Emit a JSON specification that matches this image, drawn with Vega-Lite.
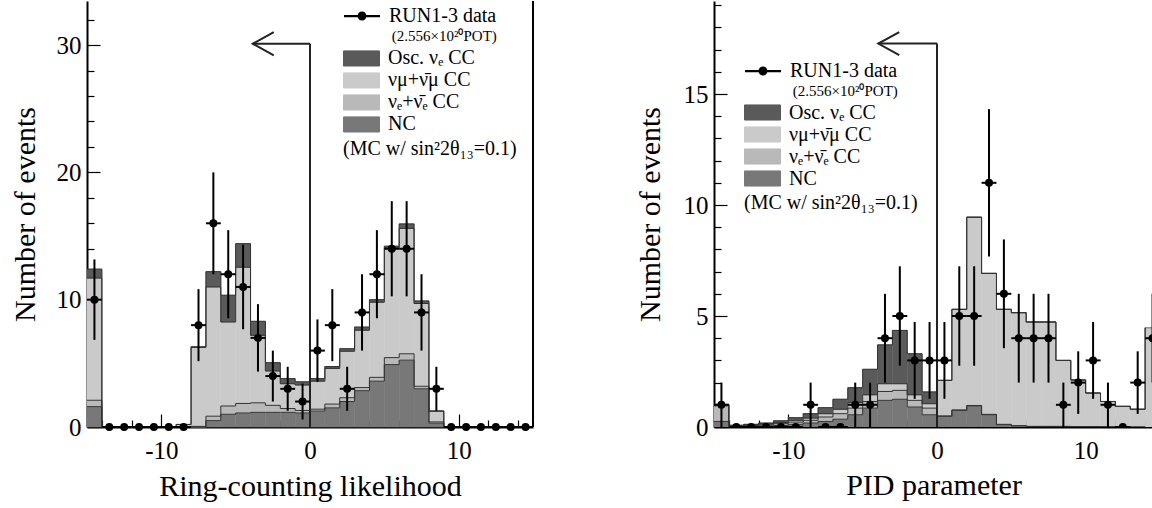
{
  "$schema": "https://vega.github.io/schema/vega-lite/v6.json",
  "padding": {"left": 10, "top": 0, "right": 0, "bottom": 8},
  "background": "white",
  "bounds": "flush",
  "spacing": 181,
  "config": {
    "view": {"stroke": null},
    "font": "Liberation Serif",
    "style": {"guide-label": {"font": "Liberation Serif", "fill": "black"}, "guide-title": {"font": "Liberation Serif", "fill": "black", "fontWeight": "normal"}},
    "axis": {"domainColor": "black", "domainWidth": 2, "tickColor": "black", "tickWidth": 1.2, "labelFont": "Liberation Serif", "labelFontSize": 25, "labelColor": "black", "titleFont": "Liberation Serif", "titleFontSize": 30, "titleFontWeight": "normal", "titleColor": "black", "grid": false, "labelOverlap": false, "labelFlush": false, "zindex": 1},
    "legend": {"labelFont": "Liberation Serif", "labelFontSize": 20, "labelColor": "black", "titleFont": "Liberation Serif", "titleFontWeight": "normal", "titleColor": "black", "padding": 0, "titleLimit": 500, "labelLimit": 500}
  },
  "datasets": {
    "mcL": [
      {"a": -15, "b": -14, "NC": 1.6, "nue": 0.5, "numu": 9.6, "osc": 0.7},
      {"a": -14, "b": -13, "NC": 0, "nue": 0, "numu": 0, "osc": 0},
      {"a": -13, "b": -12, "NC": 0, "nue": 0, "numu": 0, "osc": 0},
      {"a": -12, "b": -11, "NC": 0, "nue": 0, "numu": 0, "osc": 0},
      {"a": -11, "b": -10, "NC": 0, "nue": 0, "numu": 0, "osc": 0},
      {"a": -10, "b": -9, "NC": 0, "nue": 0, "numu": 0, "osc": 0},
      {"a": -9, "b": -8, "NC": 0, "nue": 0, "numu": 0.2, "osc": 0},
      {"a": -8, "b": -7, "NC": 0, "nue": 0.05, "numu": 6.2, "osc": 0.05},
      {"a": -7, "b": -6, "NC": 0.5, "nue": 0.35, "numu": 10.15, "osc": 1.2},
      {"a": -6, "b": -5, "NC": 1.0, "nue": 0.65, "numu": 6.6, "osc": 2.1},
      {"a": -5, "b": -4, "NC": 1.1, "nue": 0.75, "numu": 10.7, "osc": 1.85},
      {"a": -4, "b": -3, "NC": 1.15, "nue": 0.75, "numu": 5.3, "osc": 1.1},
      {"a": -3, "b": -2, "NC": 1.15, "nue": 0.55, "numu": 2.7, "osc": 0.65},
      {"a": -2, "b": -1, "NC": 1.15, "nue": 0.3, "numu": 1.95, "osc": 0.4},
      {"a": -1, "b": 0, "NC": 1.1, "nue": 0.2, "numu": 2.0, "osc": 0.25},
      {"a": 0, "b": 1, "NC": 1.25, "nue": 0.15, "numu": 2.2, "osc": 0.2},
      {"a": 1, "b": 2, "NC": 1.5, "nue": 0.3, "numu": 2.8, "osc": 0.15},
      {"a": 2, "b": 3, "NC": 2.0, "nue": 0.3, "numu": 3.65, "osc": 0.2},
      {"a": 3, "b": 4, "NC": 2.85, "nue": 0.25, "numu": 4.5, "osc": 0.25},
      {"a": 4, "b": 5, "NC": 3.6, "nue": 0.3, "numu": 5.9, "osc": 0.2},
      {"a": 5, "b": 6, "NC": 4.9, "nue": 0.55, "numu": 8.6, "osc": 0.15},
      {"a": 6, "b": 7, "NC": 5.25, "nue": 0.5, "numu": 9.85, "osc": 0.35},
      {"a": 7, "b": 8, "NC": 3.0, "nue": 0.2, "numu": 6.5, "osc": 0.2},
      {"a": 8, "b": 9, "NC": 0.3, "nue": 0.1, "numu": 0.85, "osc": 0},
      {"a": 9, "b": 10, "NC": 0, "nue": 0, "numu": 0, "osc": 0},
      {"a": 10, "b": 11, "NC": 0, "nue": 0, "numu": 0, "osc": 0},
      {"a": 11, "b": 12, "NC": 0, "nue": 0, "numu": 0, "osc": 0},
      {"a": 12, "b": 13, "NC": 0, "nue": 0, "numu": 0, "osc": 0},
      {"a": 13, "b": 14, "NC": 0, "nue": 0, "numu": 0, "osc": 0},
      {"a": 14, "b": 15, "NC": 0, "nue": 0, "numu": 0, "osc": 0}
    ],
    "mcR": [
      {"a": -15, "b": -14, "NC": 0.25, "nue": 0.7, "numu": 0.05, "osc": 0.02},
      {"a": -14, "b": -13, "NC": 0.02, "nue": 0.02, "numu": 0.02, "osc": 0.02},
      {"a": -13, "b": -12, "NC": 0.03, "nue": 0.03, "numu": 0.03, "osc": 0.03},
      {"a": -12, "b": -11, "NC": 0.05, "nue": 0.05, "numu": 0.04, "osc": 0.04},
      {"a": -11, "b": -10, "NC": 0.07, "nue": 0.08, "numu": 0.05, "osc": 0.08},
      {"a": -10, "b": -9, "NC": 0.12, "nue": 0.1, "numu": 0.08, "osc": 0.12},
      {"a": -9, "b": -8, "NC": 0.18, "nue": 0.12, "numu": 0.1, "osc": 0.2},
      {"a": -8, "b": -7, "NC": 0.25, "nue": 0.2, "numu": 0.15, "osc": 0.27},
      {"a": -7, "b": -6, "NC": 0.35, "nue": 0.25, "numu": 0.2, "osc": 0.45},
      {"a": -6, "b": -5, "NC": 0.55, "nue": 0.3, "numu": 0.25, "osc": 0.67},
      {"a": -5, "b": -4, "NC": 0.85, "nue": 0.3, "numu": 0.3, "osc": 1.15},
      {"a": -4, "b": -3, "NC": 1.2, "nue": 0.4, "numu": 0.35, "osc": 1.75},
      {"a": -3, "b": -2, "NC": 1.25, "nue": 0.4, "numu": 0.3, "osc": 2.4},
      {"a": -2, "b": -1, "NC": 0.9, "nue": 0.3, "numu": 0.25, "osc": 1.85},
      {"a": -1, "b": 0, "NC": 0.55, "nue": 0.3, "numu": 0.2, "osc": 0.53},
      {"a": 0, "b": 1, "NC": 0.48, "nue": 0.02, "numu": 1.6, "osc": 0},
      {"a": 1, "b": 2, "NC": 0.75, "nue": 0.02, "numu": 4.53, "osc": 0},
      {"a": 2, "b": 3, "NC": 0.95, "nue": 0.02, "numu": 8.48, "osc": 0},
      {"a": 3, "b": 4, "NC": 0.55, "nue": 0.02, "numu": 6.35, "osc": 0},
      {"a": 4, "b": 5, "NC": 0.1, "nue": 0.02, "numu": 5.18, "osc": 0},
      {"a": 5, "b": 6, "NC": 0.05, "nue": 0.01, "numu": 5.09, "osc": 0},
      {"a": 6, "b": 7, "NC": 0.02, "nue": 0.01, "numu": 4.7, "osc": 0},
      {"a": 7, "b": 8, "NC": 0.02, "nue": 0.01, "numu": 4.7, "osc": 0},
      {"a": 8, "b": 9, "NC": 0.02, "nue": 0.01, "numu": 2.97, "osc": 0},
      {"a": 9, "b": 10, "NC": 0.01, "nue": 0.01, "numu": 2.1, "osc": 0},
      {"a": 10, "b": 11, "NC": 0.01, "nue": 0.01, "numu": 1.51, "osc": 0},
      {"a": 11, "b": 12, "NC": 0.01, "nue": 0, "numu": 1.14, "osc": 0},
      {"a": 12, "b": 13, "NC": 0.01, "nue": 0, "numu": 0.92, "osc": 0},
      {"a": 13, "b": 14, "NC": 0, "nue": 0, "numu": 0.8, "osc": 0},
      {"a": 14, "b": 15, "NC": 0, "nue": 0, "numu": 4.47, "osc": 0}
    ],
    "ptL": [
      {"a": -15, "b": -14, "m": -14.5, "n": 10, "lo": 6.84, "hi": 13.16},
      {"a": -14, "b": -13, "m": -13.5, "n": 0, "lo": 0, "hi": 0},
      {"a": -13, "b": -12, "m": -12.5, "n": 0, "lo": 0, "hi": 0},
      {"a": -12, "b": -11, "m": -11.5, "n": 0, "lo": 0, "hi": 0},
      {"a": -11, "b": -10, "m": -10.5, "n": 0, "lo": 0, "hi": 0},
      {"a": -10, "b": -9, "m": -9.5, "n": 0, "lo": 0, "hi": 0},
      {"a": -9, "b": -8, "m": -8.5, "n": 0, "lo": 0, "hi": 0},
      {"a": -8, "b": -7, "m": -7.5, "n": 8, "lo": 5.17, "hi": 10.83},
      {"a": -7, "b": -6, "m": -6.5, "n": 16, "lo": 12, "hi": 20},
      {"a": -6, "b": -5, "m": -5.5, "n": 12, "lo": 8.54, "hi": 15.46},
      {"a": -5, "b": -4, "m": -4.5, "n": 11, "lo": 7.68, "hi": 14.32},
      {"a": -4, "b": -3, "m": -3.5, "n": 7, "lo": 4.35, "hi": 9.65},
      {"a": -3, "b": -2, "m": -2.5, "n": 4, "lo": 2, "hi": 6},
      {"a": -2, "b": -1, "m": -1.5, "n": 3, "lo": 1.27, "hi": 4.73},
      {"a": -1, "b": 0, "m": -0.5, "n": 2, "lo": 0.59, "hi": 3.41},
      {"a": 0, "b": 1, "m": 0.5, "n": 6, "lo": 3.55, "hi": 8.45},
      {"a": 1, "b": 2, "m": 1.5, "n": 8, "lo": 5.17, "hi": 10.83},
      {"a": 2, "b": 3, "m": 2.5, "n": 3, "lo": 1.27, "hi": 4.73},
      {"a": 3, "b": 4, "m": 3.5, "n": 9, "lo": 6, "hi": 12},
      {"a": 4, "b": 5, "m": 4.5, "n": 12, "lo": 8.54, "hi": 15.46},
      {"a": 5, "b": 6, "m": 5.5, "n": 14, "lo": 10.26, "hi": 17.74},
      {"a": 6, "b": 7, "m": 6.5, "n": 14, "lo": 10.26, "hi": 17.74},
      {"a": 7, "b": 8, "m": 7.5, "n": 9, "lo": 6, "hi": 12},
      {"a": 8, "b": 9, "m": 8.5, "n": 3, "lo": 1.27, "hi": 4.73},
      {"a": 9, "b": 10, "m": 9.5, "n": 0, "lo": 0, "hi": 0},
      {"a": 10, "b": 11, "m": 10.5, "n": 0, "lo": 0, "hi": 0},
      {"a": 11, "b": 12, "m": 11.5, "n": 0, "lo": 0, "hi": 0},
      {"a": 12, "b": 13, "m": 12.5, "n": 0, "lo": 0, "hi": 0},
      {"a": 13, "b": 14, "m": 13.5, "n": 0, "lo": 0, "hi": 0},
      {"a": 14, "b": 15, "m": 14.5, "n": 0, "lo": 0, "hi": 0}
    ],
    "ptR": [
      {"a": -15, "b": -14, "m": -14.5, "n": 1, "lo": 0, "hi": 2},
      {"a": -14, "b": -13, "m": -13.5, "n": 0, "lo": 0, "hi": 0},
      {"a": -13, "b": -12, "m": -12.5, "n": 0, "lo": 0, "hi": 0},
      {"a": -12, "b": -11, "m": -11.5, "n": 0, "lo": 0, "hi": 0},
      {"a": -11, "b": -10, "m": -10.5, "n": 0, "lo": 0, "hi": 0},
      {"a": -10, "b": -9, "m": -9.5, "n": 0, "lo": 0, "hi": 0},
      {"a": -9, "b": -8, "m": -8.5, "n": 1, "lo": 0, "hi": 2},
      {"a": -8, "b": -7, "m": -7.5, "n": 0, "lo": 0, "hi": 0},
      {"a": -7, "b": -6, "m": -6.5, "n": 0, "lo": 0, "hi": 0},
      {"a": -6, "b": -5, "m": -5.5, "n": 1, "lo": 0, "hi": 2},
      {"a": -5, "b": -4, "m": -4.5, "n": 1, "lo": 0, "hi": 2},
      {"a": -4, "b": -3, "m": -3.5, "n": 4, "lo": 2, "hi": 6},
      {"a": -3, "b": -2, "m": -2.5, "n": 5, "lo": 2.76, "hi": 7.24},
      {"a": -2, "b": -1, "m": -1.5, "n": 3, "lo": 1.27, "hi": 4.73},
      {"a": -1, "b": 0, "m": -0.5, "n": 3, "lo": 1.27, "hi": 4.73},
      {"a": 0, "b": 1, "m": 0.5, "n": 3, "lo": 1.27, "hi": 4.73},
      {"a": 1, "b": 2, "m": 1.5, "n": 5, "lo": 2.76, "hi": 7.24},
      {"a": 2, "b": 3, "m": 2.5, "n": 5, "lo": 2.76, "hi": 7.24},
      {"a": 3, "b": 4, "m": 3.5, "n": 11, "lo": 7.68, "hi": 14.32},
      {"a": 4, "b": 5, "m": 4.5, "n": 6, "lo": 3.55, "hi": 8.45},
      {"a": 5, "b": 6, "m": 5.5, "n": 4, "lo": 2, "hi": 6},
      {"a": 6, "b": 7, "m": 6.5, "n": 4, "lo": 2, "hi": 6},
      {"a": 7, "b": 8, "m": 7.5, "n": 4, "lo": 2, "hi": 6},
      {"a": 8, "b": 9, "m": 8.5, "n": 1, "lo": 0, "hi": 2},
      {"a": 9, "b": 10, "m": 9.5, "n": 2, "lo": 0.59, "hi": 3.41},
      {"a": 10, "b": 11, "m": 10.5, "n": 3, "lo": 1.27, "hi": 4.73},
      {"a": 11, "b": 12, "m": 11.5, "n": 1, "lo": 0, "hi": 2},
      {"a": 12, "b": 13, "m": 12.5, "n": 0, "lo": 0, "hi": 0},
      {"a": 13, "b": 14, "m": 13.5, "n": 2, "lo": 0.59, "hi": 3.41},
      {"a": 14, "b": 15, "m": 14.5, "n": 4, "lo": 2, "hi": 6}
    ]
  },
  "resolve": {
    "scale": {"x": "independent", "y": "independent", "fill": "independent", "stroke": "independent", "shape": "independent"},
    "legend": {"fill": "independent", "shape": "independent"}
  },
  "hconcat": [
    {
      "width": 446,
      "height": 426,
      "resolve": {"axis": {"x": "independent", "y": "independent"}},
      "layer": [
        {
          "data": {"name": "mcL"},
          "transform": [
            {"fold": ["NC", "nue", "numu", "osc"], "as": ["c", "n"]},
            {"stack": "n", "groupby": ["a"], "sort": [{"field": "c", "order": "ascending"}], "as": ["s0", "s1"]}
          ],
          "mark": {"type": "bar", "strokeWidth": 0.5},
          "encoding": {
            "x": {"field": "a", "type": "quantitative", "scale": {"domain": [-15, 15], "nice": false, "zero": false},
              "axis": {"title": "Ring-counting likelihood", "values": [-10, 0, 10], "labelExpr": "'' + datum.value", "tickSize": -13, "labelPadding": 24, "titleY": 68, "titleBaseline": "alphabetic", "labelFont": "Liberation Serif", "labelFontSize": 25, "labelColor": "black", "labelOverlap": false, "labelFlush": false, "titleFont": "Liberation Serif", "titleFontSize": 30, "titleFontWeight": "normal", "orient": "bottom"}},
            "x2": {"field": "b"},
            "y": {"field": "s0", "type": "quantitative", "scale": {"domain": [0, 33.46], "nice": false, "zero": false},
              "axis": {"title": "Number of events", "values": [0, 10, 20, 30], "labelExpr": "'' + datum.value", "tickSize": -13, "labelPadding": 19, "titleX": -53, "titleBaseline": "alphabetic", "labelFont": "Liberation Serif", "labelFontSize": 25, "labelColor": "black", "labelOverlap": false, "labelFlush": false, "titleFont": "Liberation Serif", "titleFontSize": 30, "titleFontWeight": "normal", "orient": "left"}},
            "y2": {"field": "s1"},
            "fill": {"field": "c", "type": "nominal", "scale": {"domain": ["osc", "numu", "nue", "NC"], "range": ["#5a5a5a", "#cacaca", "#b9b9b9", "#787878"]},
              "legend": {"orient": "none", "legendX": 256, "legendY": 46.6, "title": "(MC w/ sin²2θ₁₃=0.1)", "titleOrient": "bottom", "titleFont": "Liberation Serif", "titleFontSize": 20, "titleFontWeight": "normal", "titlePadding": 3, "titleAnchor": "start", "symbolType": "M-1,-0.42H1V0.42H-1Z", "symbolSize": 1296, "symbolStrokeColor": "#555555", "symbolStrokeWidth": 1, "symbolOpacity": 1, "clipHeight": 21.7, "rowPadding": 0, "labelOffset": 8, "labelFont": "Liberation Serif", "labelFontSize": 20,
                "labelExpr": "datum.value == 'osc' ? 'Osc. νₑ CC' : datum.value == 'numu' ? 'νμ+ν̄μ CC' : datum.value == 'nue' ? 'νₑ+ν̄ₑ CC' : 'NC'"}},
            "stroke": {"field": "c", "type": "nominal", "scale": {"domain": ["osc", "numu", "nue", "NC"], "range": ["#5a5a5a", "#cacaca", "#b9b9b9", "#787878"]}, "legend": null}
          }
        },
        {
          "data": {"name": "mcL"},
          "transform": [
            {"fold": ["NC", "nue", "numu", "osc"], "as": ["c", "n"]},
            {"stack": "n", "groupby": ["a"], "sort": [{"field": "c", "order": "ascending"}], "as": ["s0", "s1"]}
          ],
          "mark": {"type": "line", "interpolate": "step-after", "stroke": "#333333", "strokeWidth": 1},
          "encoding": {
            "x": {"field": "a", "type": "quantitative", "scale": {"domain": [-15, 15], "nice": false, "zero": false},
              "axis": {"title": null, "values": [-14, -12, -8, -6, -4, -2, 2, 4, 6, 8, 12, 14], "labels": false, "domain": false, "tickSize": -7, "orient": "bottom"}},
            "y": {"field": "s1", "type": "quantitative", "scale": {"domain": [0, 33.46], "nice": false, "zero": false},
              "axis": {"title": null, "values": [2, 4, 6, 8, 12, 14, 16, 18, 22, 24, 26, 28, 32], "labels": false, "domain": false, "tickSize": -7, "orient": "left"}},
            "detail": {"field": "c"}
          }
        },
        {
          "data": {"values": [{}]},
          "mark": {"type": "rule", "stroke": "#222222", "strokeWidth": 2},
          "encoding": {"x": {"datum": 0, "type": "quantitative", "axis": null}, "y": {"datum": 0, "type": "quantitative", "axis": null}, "y2": {"datum": 30.1}}
        },
        {
          "data": {"values": [{}]},
          "mark": {"type": "rule", "stroke": "#222222", "strokeWidth": 2},
          "encoding": {"x": {"datum": -3.85, "type": "quantitative", "axis": null}, "x2": {"datum": 0}, "y": {"datum": 30.1, "type": "quantitative", "axis": null}}
        },
        {
          "data": {"values": [{}]},
          "mark": {"type": "point", "shape": "M1,-0.55L0,0L1,0.55", "size": 1764, "filled": false, "stroke": "#222222", "strokeWidth": 2, "opacity": 1},
          "encoding": {"x": {"datum": -3.85, "type": "quantitative", "axis": null}, "y": {"datum": 30.1, "type": "quantitative", "axis": null}}
        },
        {
          "data": {"values": [{}]},
          "mark": {"type": "rule", "stroke": "black", "strokeWidth": 2},
          "encoding": {"x": {"datum": 15, "type": "quantitative", "axis": null}}
        },
        {
          "data": {"name": "ptL"},
          "mark": {"type": "rule", "stroke": "black", "strokeWidth": 2},
          "encoding": {
            "x": {"field": "m", "type": "quantitative", "axis": null},
            "y": {"field": "lo", "type": "quantitative", "axis": null},
            "y2": {"field": "hi"}
          }
        },
        {
          "data": {"name": "ptL"},
          "mark": {"type": "rule", "stroke": "black", "strokeWidth": 2},
          "encoding": {
            "x": {"field": "a", "type": "quantitative", "axis": null},
            "x2": {"field": "b"},
            "y": {"field": "n", "type": "quantitative", "axis": null}
          }
        },
        {
          "data": {"name": "ptL"},
          "mark": {"type": "point", "filled": true, "color": "black", "size": 64, "opacity": 1},
          "encoding": {
            "x": {"field": "m", "type": "quantitative", "axis": null},
            "y": {"field": "n", "type": "quantitative", "axis": null}
          }
        },
        {
          "data": {"values": []},
          "mark": {"type": "point", "filled": true, "color": "black", "opacity": 1},
          "encoding": {
            "x": {"datum": 0, "type": "quantitative", "axis": null},
            "y": {"datum": 0, "type": "quantitative", "axis": null},
            "shape": {"datum": "RUN1-3 data", "type": "nominal", "scale": {"range": ["M-1,-0.06H1V0.06H-1ZM-0.25,0A0.25,0.25,0,1,1,0.25,0A0.25,0.25,0,1,1,-0.25,0Z"]},
              "legend": {"orient": "none", "legendX": 256, "legendY": 4.2, "title": "\u200b\u00a0\u00a0\u00a0\u00a0\u00a0\u00a0\u00a0\u00a0\u00a0\u00a0\u00a0\u00a0\u00a0(2.556×10²⁰POT)", "titleOrient": "bottom", "titleFont": "Liberation Serif", "titleFontSize": 15, "titleFontWeight": "normal", "titlePadding": 2, "titleAnchor": "start", "symbolSize": 1296, "symbolFillColor": "black", "symbolOpacity": 1, "clipHeight": 21.7, "labelOffset": 8, "labelFont": "Liberation Serif", "labelFontSize": 20}}
          }
        }
      ]
    },
    {
      "width": 439,
      "height": 426,
      "resolve": {"axis": {"x": "independent", "y": "independent"}},
      "layer": [
        {
          "data": {"name": "mcR"},
          "transform": [
            {"fold": ["NC", "nue", "numu", "osc"], "as": ["c", "n"]},
            {"stack": "n", "groupby": ["a"], "sort": [{"field": "c", "order": "ascending"}], "as": ["s0", "s1"]}
          ],
          "mark": {"type": "bar", "strokeWidth": 0.5, "clip": true},
          "encoding": {
            "x": {"field": "a", "type": "quantitative", "scale": {"domain": [-15, 14.53], "nice": false, "zero": false},
              "axis": {"title": "PID parameter", "values": [-10, 0, 10], "labelExpr": "'' + datum.value", "tickSize": -13, "labelPadding": 24, "titleY": 67, "titleBaseline": "alphabetic", "labelFont": "Liberation Serif", "labelFontSize": 25, "labelColor": "black", "labelOverlap": false, "labelFlush": false, "titleFont": "Liberation Serif", "titleFontSize": 30, "titleFontWeight": "normal", "orient": "bottom"}},
            "x2": {"field": "b"},
            "y": {"field": "s0", "type": "quantitative", "scale": {"domain": [0, 19.19], "nice": false, "zero": false},
              "axis": {"title": "Number of events", "values": [0, 5, 10, 15], "labelExpr": "'' + datum.value", "tickSize": -13, "labelPadding": 19, "titleX": -55, "titleBaseline": "alphabetic", "labelFont": "Liberation Serif", "labelFontSize": 25, "labelColor": "black", "labelOverlap": false, "labelFlush": false, "titleFont": "Liberation Serif", "titleFontSize": 30, "titleFontWeight": "normal", "orient": "left"}},
            "y2": {"field": "s1"},
            "fill": {"field": "c", "type": "nominal", "scale": {"domain": ["osc", "numu", "nue", "NC"], "range": ["#5a5a5a", "#cacaca", "#b9b9b9", "#787878"]},
              "legend": {"orient": "none", "legendX": 30, "legendY": 100.5, "title": "(MC w/ sin²2θ₁₃=0.1)", "titleOrient": "bottom", "titleFont": "Liberation Serif", "titleFontSize": 20, "titleFontWeight": "normal", "titlePadding": 3, "titleAnchor": "start", "symbolType": "M-1,-0.42H1V0.42H-1Z", "symbolSize": 1296, "symbolStrokeColor": "#555555", "symbolStrokeWidth": 1, "symbolOpacity": 1, "clipHeight": 22, "rowPadding": 0, "labelOffset": 8, "labelFont": "Liberation Serif", "labelFontSize": 20,
                "labelExpr": "datum.value == 'osc' ? 'Osc. νₑ CC' : datum.value == 'numu' ? 'νμ+ν̄μ CC' : datum.value == 'nue' ? 'νₑ+ν̄ₑ CC' : 'NC'"}},
            "stroke": {"field": "c", "type": "nominal", "scale": {"domain": ["osc", "numu", "nue", "NC"], "range": ["#5a5a5a", "#cacaca", "#b9b9b9", "#787878"]}, "legend": null}
          }
        },
        {
          "data": {"name": "mcR"},
          "transform": [
            {"fold": ["NC", "nue", "numu", "osc"], "as": ["c", "n"]},
            {"stack": "n", "groupby": ["a"], "sort": [{"field": "c", "order": "ascending"}], "as": ["s0", "s1"]}
          ],
          "mark": {"type": "line", "interpolate": "step-after", "stroke": "#333333", "strokeWidth": 1, "clip": true},
          "encoding": {
            "x": {"field": "a", "type": "quantitative", "scale": {"domain": [-15, 14.53], "nice": false, "zero": false},
              "axis": {"title": null, "values": [-14, -12, -8, -6, -4, -2, 2, 4, 6, 8, 12, 14], "labels": false, "domain": false, "tickSize": -7, "orient": "bottom"}},
            "y": {"field": "s1", "type": "quantitative", "scale": {"domain": [0, 19.19], "nice": false, "zero": false},
              "axis": {"title": null, "values": [1, 2, 3, 4, 6, 7, 8, 9, 11, 12, 13, 14, 16, 17, 18, 19], "labels": false, "domain": false, "tickSize": -7, "orient": "left"}},
            "detail": {"field": "c"}
          }
        },
        {
          "data": {"values": [{}]},
          "mark": {"type": "rule", "stroke": "#222222", "strokeWidth": 2},
          "encoding": {"x": {"datum": 0, "type": "quantitative", "axis": null}, "y": {"datum": 0, "type": "quantitative", "axis": null}, "y2": {"datum": 17.27}}
        },
        {
          "data": {"values": [{}]},
          "mark": {"type": "rule", "stroke": "#222222", "strokeWidth": 2},
          "encoding": {"x": {"datum": -3.95, "type": "quantitative", "axis": null}, "x2": {"datum": 0}, "y": {"datum": 17.27, "type": "quantitative", "axis": null}}
        },
        {
          "data": {"values": [{}]},
          "mark": {"type": "point", "shape": "M1,-0.55L0,0L1,0.55", "size": 1764, "filled": false, "stroke": "#222222", "strokeWidth": 2, "opacity": 1},
          "encoding": {"x": {"datum": -3.95, "type": "quantitative", "axis": null}, "y": {"datum": 17.27, "type": "quantitative", "axis": null}}
        },
        {
          "data": {"name": "ptR"},
          "mark": {"type": "rule", "stroke": "black", "strokeWidth": 2, "clip": true},
          "encoding": {
            "x": {"field": "m", "type": "quantitative", "axis": null},
            "y": {"field": "lo", "type": "quantitative", "axis": null},
            "y2": {"field": "hi"}
          }
        },
        {
          "data": {"name": "ptR"},
          "mark": {"type": "rule", "stroke": "black", "strokeWidth": 2, "clip": true},
          "encoding": {
            "x": {"field": "a", "type": "quantitative", "axis": null},
            "x2": {"field": "b"},
            "y": {"field": "n", "type": "quantitative", "axis": null}
          }
        },
        {
          "data": {"name": "ptR"},
          "mark": {"type": "point", "filled": true, "color": "black", "size": 64, "opacity": 1, "clip": true},
          "encoding": {
            "x": {"field": "m", "type": "quantitative", "axis": null},
            "y": {"field": "n", "type": "quantitative", "axis": null}
          }
        },
        {
          "data": {"values": []},
          "mark": {"type": "point", "filled": true, "color": "black", "opacity": 1},
          "encoding": {
            "x": {"datum": 0, "type": "quantitative", "axis": null},
            "y": {"datum": 0, "type": "quantitative", "axis": null},
            "shape": {"datum": "RUN1-3 data", "type": "nominal", "scale": {"range": ["M-1,-0.06H1V0.06H-1ZM-0.25,0A0.25,0.25,0,1,1,0.25,0A0.25,0.25,0,1,1,-0.25,0Z"]},
              "legend": {"orient": "none", "legendX": 30, "legendY": 59.1, "title": "\u200b\u00a0\u00a0\u00a0\u00a0\u00a0\u00a0\u00a0\u00a0\u00a0\u00a0\u00a0\u00a0\u00a0(2.556×10²⁰POT)", "titleOrient": "bottom", "titleFont": "Liberation Serif", "titleFontSize": 15, "titleFontWeight": "normal", "titlePadding": 2, "titleAnchor": "start", "symbolSize": 1296, "symbolFillColor": "black", "symbolOpacity": 1, "clipHeight": 22, "labelOffset": 8, "labelFont": "Liberation Serif", "labelFontSize": 20}}
          }
        }
      ]
    }
  ]
}
